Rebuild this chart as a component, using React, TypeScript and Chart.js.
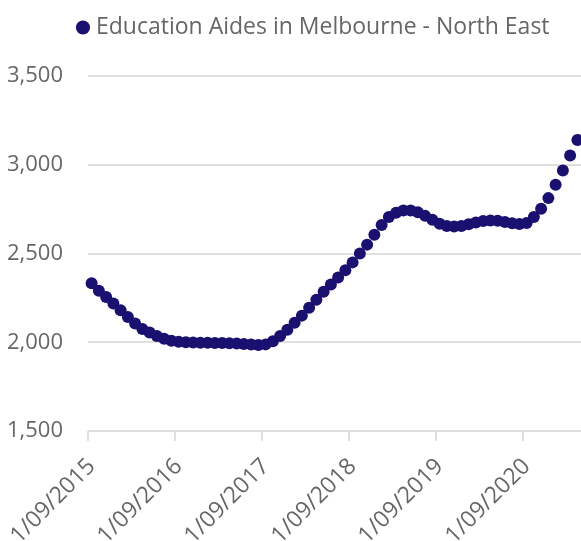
import React, { useEffect, useRef } from "react";
import { Chart, registerables } from "chart.js";

Chart.register(...registerables);

// Monthly series starting 1/09/2015
const START_YEAR = 2015;
const START_MONTH = 9;
const seriesName = "Education Aides in Melbourne - North East";
const values: number[] = [
  2332, 2290, 2255, 2218, 2180, 2142, 2105, 2075, 2055, 2035, 2020, 2008,
  2003, 2000, 1998, 1997, 1997, 1996, 1996, 1995, 1993, 1990, 1987, 1985,
  1988, 2005, 2035, 2070, 2110, 2150, 2195, 2240, 2285, 2325, 2365, 2405,
  2450, 2500, 2550, 2605, 2660, 2705, 2730, 2742, 2742, 2733, 2712, 2690,
  2668, 2655, 2652, 2655, 2665, 2675, 2683, 2686, 2684, 2678, 2670, 2666,
  2672, 2705, 2752, 2812, 2887, 2967, 3052, 3140,
];
const yTicks = { min: 1500, max: 3500, step: 500 };

const categories: string[] = values.map((_, i) => {
  const m = ((START_MONTH - 1 + i) % 12) + 1;
  const y = START_YEAR + Math.floor((START_MONTH - 1 + i) / 12);
  return `1/${String(m).padStart(2, "0")}/${y}`;
});

const POINT_COLOR = "#1a1070";
const TEXT_COLOR = "#666666";
const GRID_COLOR = "#e0e0e0";
const FONT = "'Open Sans', 'Noto Sans', sans-serif";

export default function App() {
  const ref = useRef<HTMLCanvasElement | null>(null);
  useEffect(() => {
    if (!ref.current) return;
    const legendTweak = {
      id: "legendTweak",
      beforeLayout(chart: any) {
        const lg = chart.legend;
        if (lg && !lg._patched) {
          const orig = lg.fit;
          lg.fit = function () {
            orig.call(this);
            this.height += 27;
          };
          lg._patched = true;
        }
      },
      afterLayout(chart: any) {
        const lg = chart.legend;
        if (lg) lg.left = 50;
      },
    };
    const chart = new Chart(ref.current, {
      type: "line",
      data: {
        labels: categories,
        datasets: [
          {
            label: seriesName,
            data: values,
            showLine: false,
            pointRadius: 6,
            pointHoverRadius: 6,
            pointBorderWidth: 0,
            pointBackgroundColor: POINT_COLOR,
            borderColor: POINT_COLOR,
            backgroundColor: POINT_COLOR,
          },
        ],
      },
      options: {
        responsive: false,
        animation: false,
        layout: { autoPadding: false, padding: { top: 6, left: 0, right: 0, bottom: 0 } },
        plugins: {
          tooltip: { enabled: false },
          legend: {
            position: "top",
            align: "center",
            labels: {
              usePointStyle: true,
              pointStyle: "circle",
              boxWidth: 3,
              boxHeight: 10,
              padding: 10,
              color: TEXT_COLOR,
              font: { family: FONT, size: 23 },
            },
          },
        },
        scales: {
          x: {
            type: "category",
            offset: true,
            border: { display: false },
            grid: {
              offset: true,
              drawOnChartArea: false,
              drawTicks: true,
              tickLength: 10,
              lineWidth: 2,
              tickColor: (ctx: any) => (ctx.index % 12 === 0 ? GRID_COLOR : "rgba(0,0,0,0)"),
              color: GRID_COLOR,
            },
            ticks: {
              autoSkip: false,
              minRotation: 45,
              maxRotation: 45,
              padding: 12,
              color: TEXT_COLOR,
              font: { family: FONT, size: 23 },
              callback: (_v: any, i: number) => (i % 12 === 0 ? categories[i] : ""),
            },
            afterFit: (s: any) => {
              s.height = 110;
              s.paddingLeft = 0;
              s.paddingRight = 0;
            },
          },
          y: {
            min: yTicks.min,
            max: yTicks.max,
            border: { display: false },
            grid: { color: GRID_COLOR, lineWidth: 2, drawTicks: false },
            ticks: {
              stepSize: yTicks.step,
              padding: 25,
              color: TEXT_COLOR,
              font: { family: FONT, size: 22 },
            },
            afterFit: (s: any) => {
              s.width = 88;
            },
          },
        },
      },
      plugins: [legendTweak],
    });
    return () => chart.destroy();
  }, []);
  return (
    <div style={{ position: "fixed", left: 0, top: 0, width: 581, height: 541 }}>
      <canvas ref={ref} width={581} height={541} />
    </div>
  );
}
